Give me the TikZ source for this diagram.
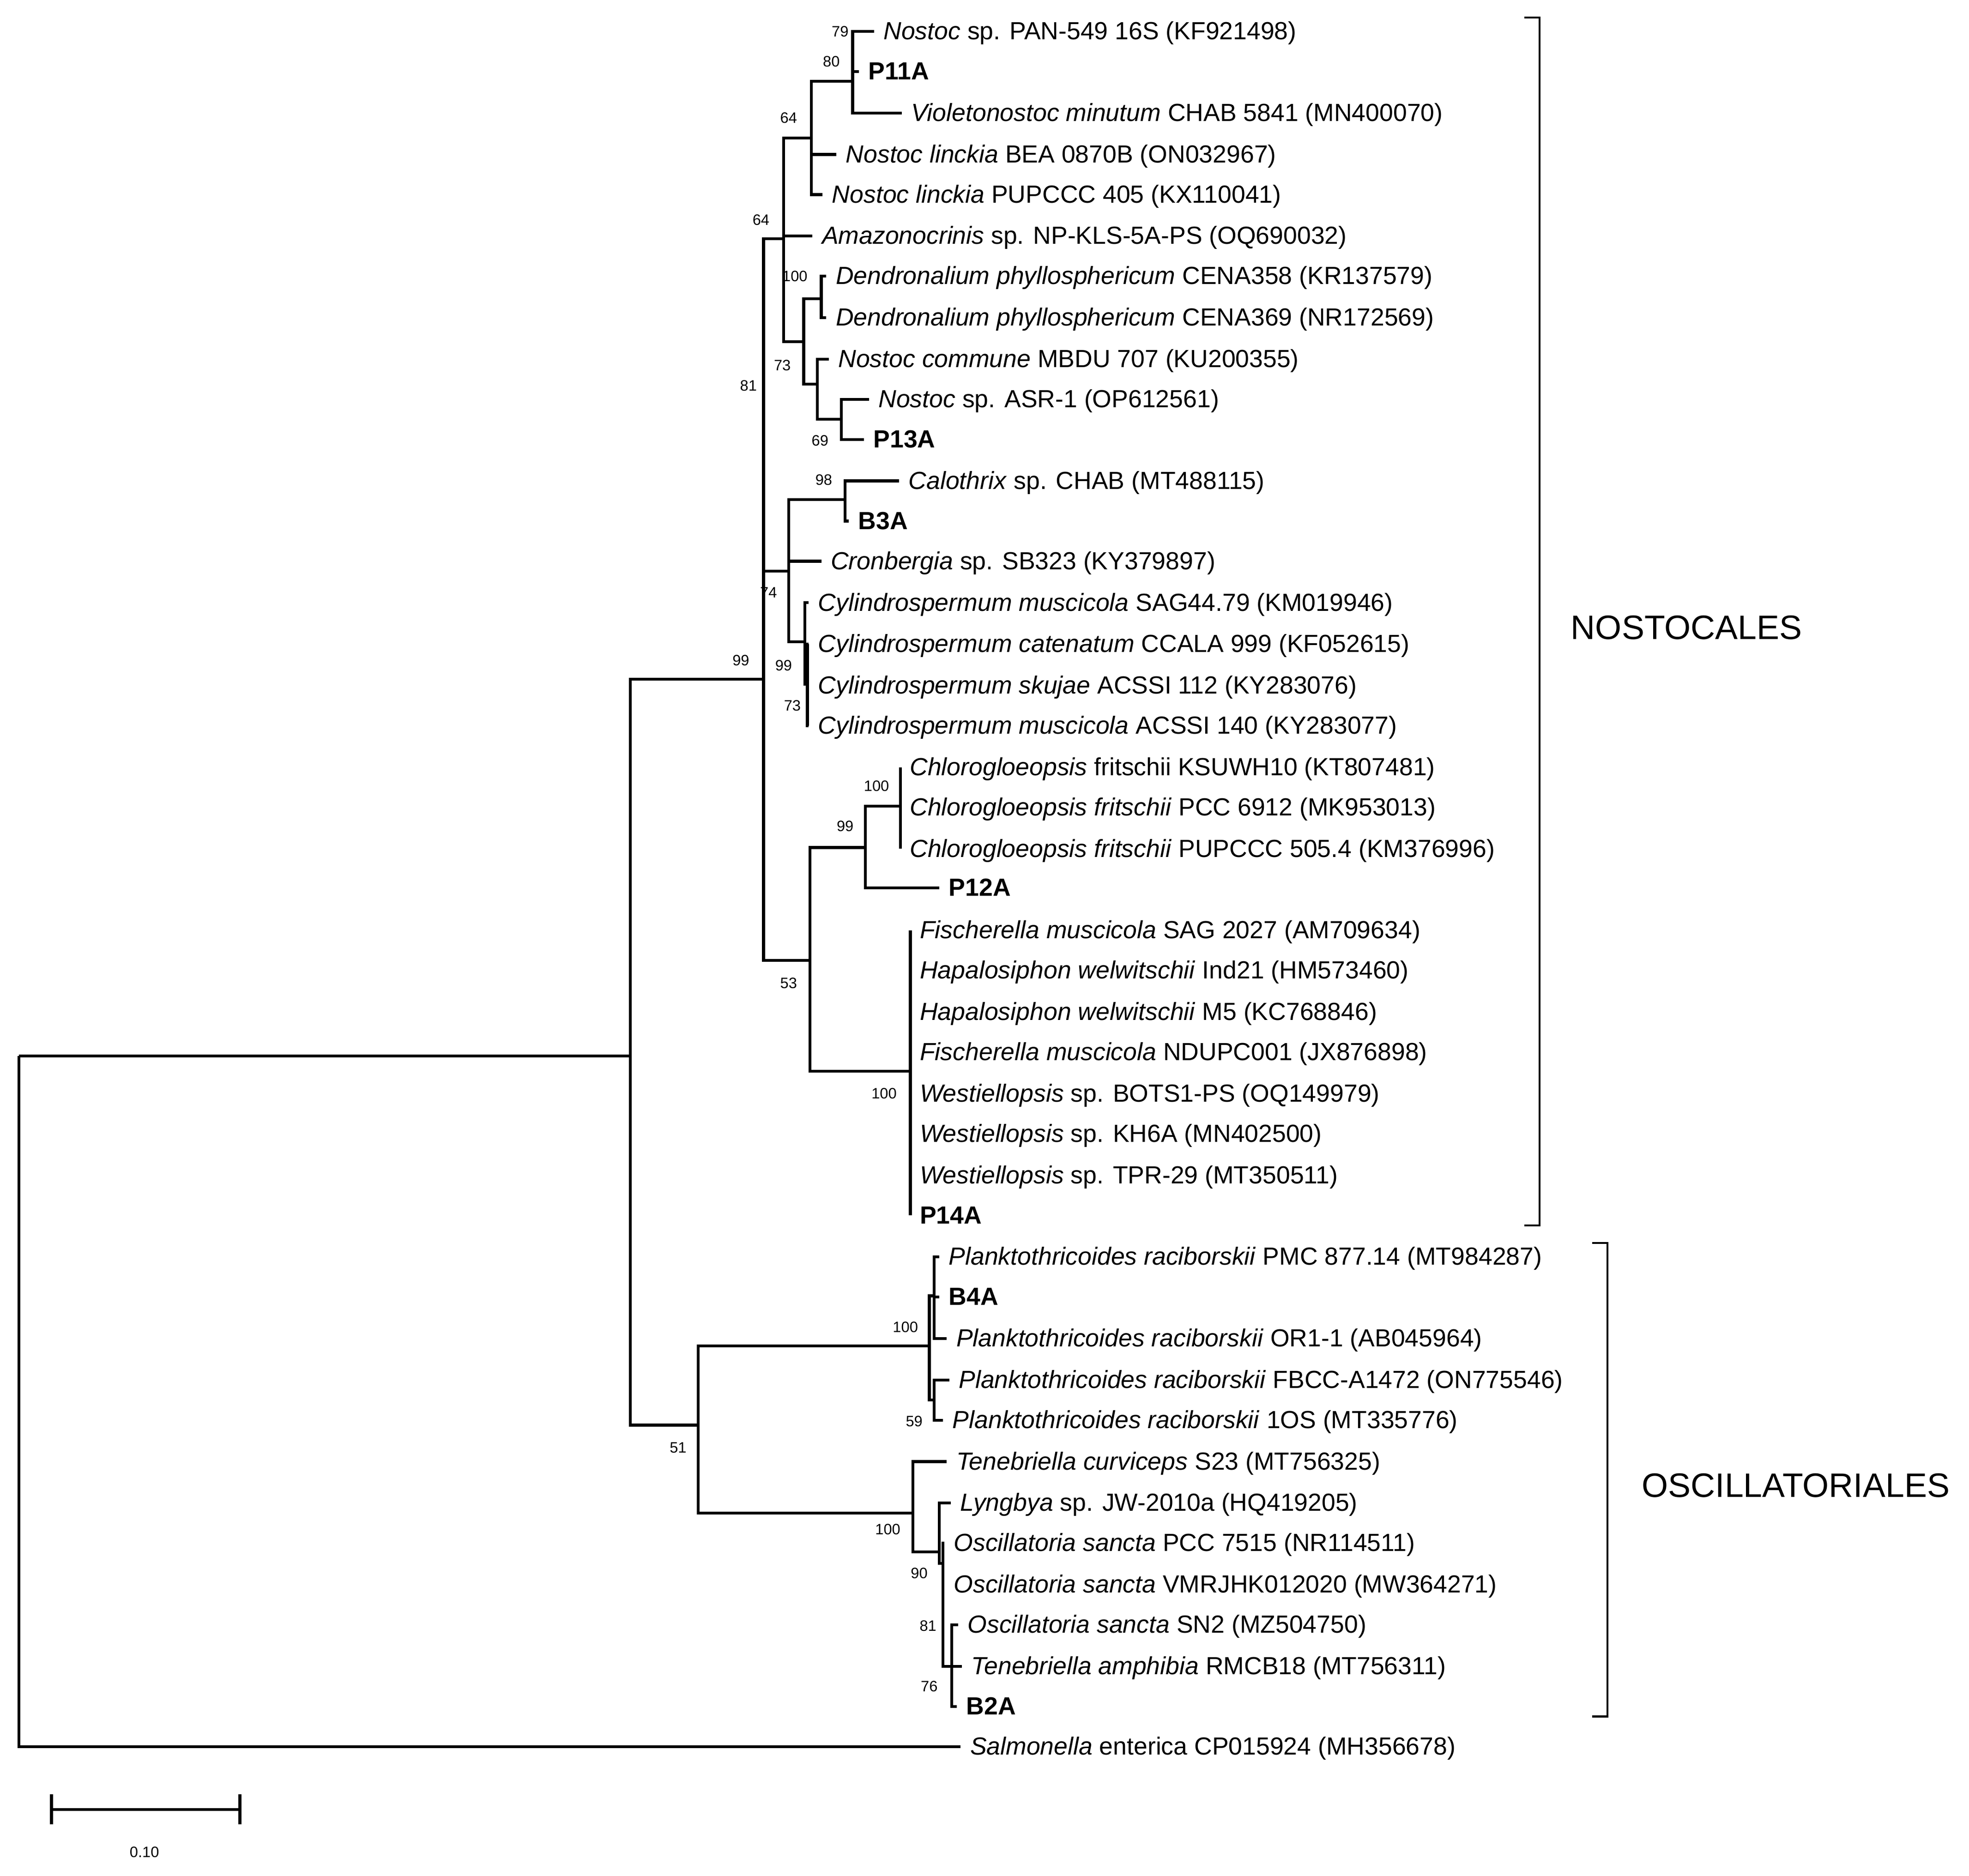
\documentclass[tikz,border=0pt]{standalone}
\usepackage{fontspec}
\setmainfont{Liberation Sans}
\begin{document}
\begin{tikzpicture}[x=0.5pt,y=-0.5pt,
  leaf/.style={anchor=west,inner xsep=3.6pt,inner ysep=0pt,text height=8.5pt,text depth=2pt,font=\fontsize{9.85}{11}\selectfont},
  bleaf/.style={leaf,font=\fontsize{9.85}{11}\selectfont\bfseries},
  sup/.style={inner sep=0pt,font=\fontsize{6}{7}\selectfont},
  br/.style={line width=0.8pt},
  clade/.style={inner sep=0pt,font=\fontsize{13.5}{15}\selectfont},
  edge/.style={line width=1.15pt}]
\useasboundingbox (0,0) rectangle (1568,1494);
% internal nodes
\coordinate (root) at (15,841);
\coordinate (A) at (502,841);
\coordinate (N99) at (608,541);
\coordinate (n64o) at (624,190);
\coordinate (n64i) at (646,110);
\coordinate (n79) at (679,64.6);
\coordinate (n73) at (640,272);
\coordinate (n100d) at (654,238);
\coordinate (n651) at (651,306);
\coordinate (n69) at (670,334);
\coordinate (n74) at (628,455);
\coordinate (n98) at (673,398);
\coordinate (n99c) at (641,511);
\coordinate (n73c) at (643,545);
\coordinate (n53) at (645,765);
\coordinate (n99p) at (689,675);
\coordinate (n100c) at (717,642);
\coordinate (n100f) at (725,853);
\coordinate (O51) at (556,1135);
\coordinate (n100p) at (740,1072);
\coordinate (n100a) at (744,1032);
\coordinate (n59) at (744,1115);
\coordinate (n100o) at (727,1205);
\coordinate (n90) at (748,1236);
\coordinate (n81) at (751,1245);
\coordinate (n76) at (758,1327);
% leaves
\node[leaf] (l1) at (696,25) {\textit{Nostoc} sp. PAN-549 16S (KF921498)};
\node[bleaf] (l2) at (684,57) {P11A};
\node[leaf] (l3) at (718,90) {\textit{Violetonostoc minutum} CHAB 5841 (MN400070)};
\node[leaf] (l4) at (666,123) {\textit{Nostoc linckia} BEA 0870B (ON032967)};
\node[leaf] (l5) at (655,155) {\textit{Nostoc linckia} PUPCCC 405 (KX110041)};
\node[leaf] (l6) at (647,188) {\textit{Amazonocrinis} sp. NP-KLS-5A-PS (OQ690032)};
\node[leaf] (l7) at (658,220) {\textit{Dendronalium phyllosphericum} CENA358 (KR137579)};
\node[leaf] (l8) at (658,253) {\textit{Dendronalium phyllosphericum} CENA369 (NR172569)};
\node[leaf] (l9) at (660,286) {\textit{Nostoc commune} MBDU 707 (KU200355)};
\node[leaf] (l10) at (692,318) {\textit{Nostoc} sp. ASR-1 (OP612561)};
\node[bleaf] (l11) at (688,350) {P13A};
\node[leaf] (l12) at (716,383) {\textit{Calothrix} sp. CHAB (MT488115)};
\node[bleaf] (l13) at (676,415) {B3A};
\node[leaf] (l14) at (654,447) {\textit{Cronbergia} sp. SB323 (KY379897)};
\node[leaf] (l15) at (644,480) {\textit{Cylindrospermum muscicola} SAG44.79 (KM019946)};
\node[leaf] (l16) at (644,513) {\textit{Cylindrospermum catenatum} CCALA 999 (KF052615)};
\node[leaf] (l17) at (644,546) {\textit{Cylindrospermum skujae} ACSSI 112 (KY283076)};
\node[leaf] (l18) at (644,578) {\textit{Cylindrospermum muscicola} ACSSI 140 (KY283077)};
\node[leaf] (l19) at (717,611) {\textit{Chlorogloeopsis} fritschii KSUWH10 (KT807481)};
\node[leaf] (l20) at (717,643) {\textit{Chlorogloeopsis fritschii} PCC 6912 (MK953013)};
\node[leaf] (l21) at (717,676) {\textit{Chlorogloeopsis fritschii} PUPCCC 505.4 (KM376996)};
\node[bleaf] (l22) at (748,707) {P12A};
\node[leaf] (l23) at (725,741) {\textit{Fischerella muscicola} SAG 2027 (AM709634)};
\node[leaf] (l24) at (725,773) {\textit{Hapalosiphon welwitschii} Ind21 (HM573460)};
\node[leaf] (l25) at (725,806) {\textit{Hapalosiphon welwitschii} M5 (KC768846)};
\node[leaf] (l26) at (725,838) {\textit{Fischerella muscicola} NDUPC001 (JX876898)};
\node[leaf] (l27) at (725,871) {\textit{Westiellopsis} sp. BOTS1-PS (OQ149979)};
\node[leaf] (l28) at (725,903) {\textit{Westiellopsis} sp. KH6A (MN402500)};
\node[leaf] (l29) at (725,936) {\textit{Westiellopsis} sp. TPR-29 (MT350511)};
\node[bleaf] (l30) at (725,968) {P14A};
\node[leaf] (o1) at (748,1001) {\textit{Planktothricoides raciborskii} PMC 877.14 (MT984287)};
\node[bleaf] (o2) at (748,1033) {B4A};
\node[leaf] (o3) at (754,1066) {\textit{Planktothricoides raciborskii} OR1-1 (AB045964)};
\node[leaf] (o4) at (756,1099) {\textit{Planktothricoides raciborskii} FBCC-A1472 (ON775546)};
\node[leaf] (o5) at (751,1131) {\textit{Planktothricoides raciborskii} 1OS (MT335776)};
\node[leaf] (o6) at (754,1164) {\textit{Tenebriella curviceps} S23 (MT756325)};
\node[leaf] (o7) at (757,1197) {\textit{Lyngbya} sp. JW-2010a (HQ419205)};
\node[leaf] (o8) at (752,1229) {\textit{Oscillatoria sancta} PCC 7515 (NR114511)};
\node[leaf] (o9) at (752,1262) {\textit{Oscillatoria sancta} VMRJHK012020 (MW364271)};
\node[leaf] (o10) at (763,1294) {\textit{Oscillatoria sancta} SN2 (MZ504750)};
\node[leaf] (o11) at (766,1327) {\textit{Tenebriella amphibia} RMCB18 (MT756311)};
\node[bleaf] (o12) at (762,1359) {B2A};
\node[leaf] (sal) at (765,1391) {\textit{Salmonella} enterica CP015924 (MH356678)};
% edges
\begin{scope}[edge]
\draw (root) |- (A); \draw (root) |- (sal.west);
\draw (A) |- (N99); \draw (A) |- (O51);
\draw (N99) |- (n64o); \draw (N99) |- (n74); \draw (N99) |- (n53);
\draw (n64o) |- (n64i); \draw (n64o) |- (l6.west); \draw (n64o) |- (n73);
\draw (n64i) |- (n79); \draw (n64i) |- (l4.west); \draw (n64i) |- (l5.west);
\draw (n79) |- (l1.west); \draw (n79) |- (l2.west); \draw (n79) |- (l3.west);
\draw (n73) |- (n100d); \draw (n73) |- (n651);
\draw (n100d) |- (l7.west); \draw (n100d) |- (l8.west);
\draw (n651) |- (l9.west); \draw (n651) |- (n69);
\draw (n69) |- (l10.west); \draw (n69) |- (l11.west);
\draw (n74) |- (n98); \draw (n74) |- (l14.west); \draw (n74) |- (n99c);
\draw (n98) |- (l12.west); \draw (n98) |- (l13.west);
\draw (n99c) |- (l15.west); \draw (n99c) |- (n73c);
\draw (n73c) |- (l16.west); \draw (n73c) |- (l17.west); \draw (n73c) |- (l18.west);
\draw (n53) |- (n99p); \draw (n53) |- (n100f);
\draw (n99p) |- (n100c); \draw (n99p) |- (l22.west);
\draw (n100c) |- (l19.west); \draw (n100c) |- (l21.west);
\draw (n100f) |- (l23.west); \draw (n100f) |- (l30.west);
\draw (O51) |- (n100p); \draw (O51) |- (n100o);
\draw (n100p) |- (n100a); \draw (n100p) |- (n59);
\draw (n100a) |- (o1.west); \draw (n100a) |- (o2.west); \draw (n100a) |- (o3.west);
\draw (n59) |- (o4.west); \draw (n59) |- (o5.west);
\draw (n100o) |- (o6.west); \draw (n100o) |- (n90);
\draw (n90) |- (o7.west); \draw (n90) |- (n81);
\draw (n81) |- (o8.west); \draw (n81) |- (o9.west); \draw (n81) |- (n76);
\draw (n76) |- (o10.west); \draw (n76) |- (o11.west); \draw (n76) |- (o12.west);
\end{scope}
% supports
\node[sup] (s1) at (669,25) {79};
\node[sup] (s2) at (662,49) {80};
\node[sup] (s3) at (628,94) {64};
\node[sup] (s4) at (606,175) {64};
\node[sup] (s5) at (633,220) {100};
\node[sup] (s6) at (623,291) {73};
\node[sup] (s7) at (596,307) {81};
\node[sup] (s8) at (653,351) {69};
\node[sup] (s9) at (656,382) {98};
\node[sup] (s10) at (612,472) {74};
\node[sup] (s11) at (590,526) {99};
\node[sup] (s12) at (624,530) {99};
\node[sup] (s13) at (631,562) {73};
\node[sup] (s14) at (698,626) {100};
\node[sup] (s15) at (673,658) {99};
\node[sup] (s16) at (628,783) {53};
\node[sup] (s17) at (704,871) {100};
\node[sup] (s18) at (721,1057) {100};
\node[sup] (s19) at (728,1132) {59};
\node[sup] (s20) at (540,1153) {51};
\node[sup] (s21) at (707,1218) {100};
\node[sup] (s22) at (732,1253) {90};
\node[sup] (s23) at (739,1295) {81};
\node[sup] (s24) at (740,1343) {76};
% clades
\coordinate (b1t) at (1214,14); \coordinate (b1a) at (1226,14);
\coordinate (b1b) at (1226,976); \coordinate (b1c) at (1214,976);
\draw[br] (b1t) -- (b1a) -- (b1b) -- (b1c);
\node[clade] (cN) at (1343,500) {NOSTOCALES};
\coordinate (b2t) at (1268,990); \coordinate (b2a) at (1280,990);
\coordinate (b2b) at (1280,1367); \coordinate (b2c) at (1268,1367);
\draw[br] (b2t) -- (b2a) -- (b2b) -- (b2c);
\node[clade] (cO) at (1430,1183) {OSCILLATORIALES};
% scale bar
\coordinate (sb1) at (41,1441); \coordinate (sb2) at (191,1441);
\draw[edge] (sb1) -- (sb2);
\draw[edge] ([yshift=-6]sb1) -- ([yshift=6]sb1);
\draw[edge] ([yshift=-6]sb2) -- ([yshift=6]sb2);
\node[sup] (sbl) at (115,1475) {0.10};
\end{tikzpicture}
\end{document}
